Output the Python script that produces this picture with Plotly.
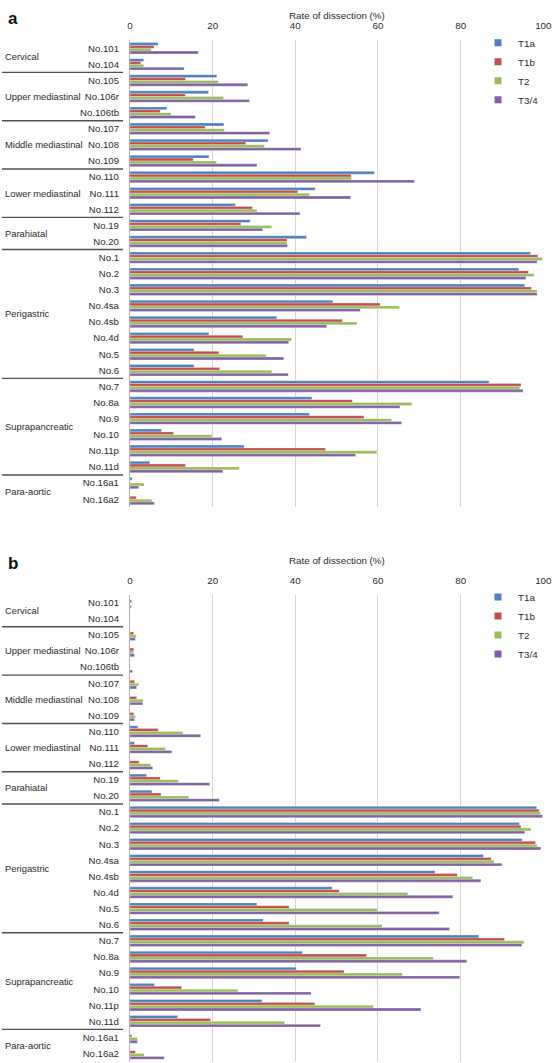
import plotly.graph_objects as go

categories = ["No.101", "No.104", "No.105", "No.106r", "No.106tb", "No.107", "No.108", "No.109",
              "No.110", "No.111", "No.112", "No.19", "No.20", "No.1", "No.2", "No.3", "No.4sa",
              "No.4sb", "No.4d", "No.5", "No.6", "No.7", "No.8a", "No.9", "No.10", "No.11p",
              "No.11d", "No.16a1", "No.16a2"]

group_names = ["Cervical", "Upper mediastinal", "Middle mediastinal", "Lower mediastinal",
               "Parahiatal", "Perigastric", "Suprapancreatic", "Para-aortic"]
group_sizes = [2, 3, 3, 3, 2, 8, 6, 2]

series_names = ["T1a", "T1b", "T2", "T3/4"]
series_colors = ["#4F81BD", "#C0504D", "#9BBB59", "#8064A2"]

# Panel a
a_T1a = [6.8, 3.3, 21.0, 19.0, 8.9, 22.7, 33.4, 19.1, 59.1, 44.8, 25.5, 29.1, 42.7, 96.9, 94.1,
         95.5, 49.1, 35.5, 19.1, 15.5, 15.5, 86.9, 44.0, 43.4, 7.6, 27.6, 4.8, 0.5, 0]
a_T1b = [5.8, 2.6, 13.4, 13.4, 7.3, 18.2, 28.0, 15.3, 53.5, 40.6, 29.6, 26.8, 38.0, 98.7, 96.4,
         97.1, 60.5, 51.4, 27.3, 21.5, 21.7, 94.6, 53.8, 56.6, 10.5, 47.3, 13.4, 0, 1.5]
a_T2 = [5.1, 3.3, 21.4, 22.6, 9.9, 22.8, 32.5, 20.9, 53.6, 43.4, 30.7, 34.3, 38.0, 99.8, 97.8,
        98.5, 65.2, 54.9, 39.1, 33.0, 34.3, 94.3, 68.2, 63.3, 19.8, 59.7, 26.4, 3.4, 5.3]
a_T34 = [16.5, 13.1, 28.5, 28.9, 15.8, 33.8, 41.4, 30.7, 68.8, 53.4, 41.1, 32.1, 38.1, 98.5, 95.8,
         98.5, 55.7, 47.6, 38.4, 37.2, 38.3, 95.1, 65.3, 65.7, 22.2, 54.6, 22.5, 2.1, 5.9]

# Panel b
b_T1a = [0, 0, 0, 0, 0, 0, 0, 0, 1.9, 1.1, 0, 4.0, 5.3, 98.4, 94.2, 94.9, 85.5, 73.8, 48.9, 30.7,
         32.2, 84.4, 41.7, 40.2, 5.9, 31.9, 11.5, 0, 0]
b_T1b = [0.4, 0, 0.9, 0.9, 0, 1.1, 1.6, 0.9, 6.8, 4.3, 2.2, 7.3, 7.5, 99.0, 94.6, 98.1, 87.4, 79.2,
         50.6, 38.5, 38.5, 90.6, 57.2, 51.8, 12.5, 44.7, 19.5, 0.4, 1.3]
b_T2 = [0, 0, 1.5, 0.8, 0, 2.1, 3.2, 1.3, 12.8, 8.6, 5.0, 11.7, 14.2, 99.3, 97.0, 98.5, 88.1, 82.9,
        67.2, 59.9, 61.0, 95.3, 73.4, 65.9, 26.1, 58.9, 37.4, 1.8, 3.4]
b_T34 = [0.3, 0, 1.3, 1.1, 0.6, 1.6, 3.1, 1.1, 17.1, 10.1, 5.5, 19.3, 21.6, 99.8, 95.5, 99.4, 90.0,
         84.9, 78.1, 74.8, 77.3, 94.8, 81.5, 79.8, 43.8, 70.4, 46.1, 1.8, 8.3]

x_ticks = [0, 20, 40, 60, 80, 100]
axis_title = "Rate of dissection (%)"
panel_labels = ["a", "b"]

W, H = 553, 1063
FONT = "Liberation Sans, Arial, sans-serif"
TXT = "#2a2a2a"
FS = 9.8
FS_CAT = 9.6
FS_GRP = 9.4

panels = [
    dict(data=[a_T1a, a_T1b, a_T2, a_T34], xa="x", ya="y", leg="legend",
         top=40.2, bottom=507.2, title_y=16, lab_y=19),
    dict(data=[b_T1a, b_T1b, b_T2, b_T34], xa="x2", ya="y2", leg="legend2",
         top=594.6, bottom=1061.6, title_y=560, lab_y=563),
]

fig = go.Figure()

for p in panels:
    for name, color, vals in zip(series_names, series_colors, p["data"]):
        fig.add_trace(go.Bar(
            y=categories, x=vals, name=name, orientation="h",
            xaxis=p["xa"], yaxis=p["ya"], showlegend=False,
            marker=dict(color=color, line=dict(color="rgba(255,255,255,0.55)", width=0.5)),
            hoverinfo="x+y+name",
        ))
    for name, color in zip(series_names, series_colors):
        fig.add_trace(go.Scatter(
            x=[None], y=[None], mode="markers", name=name,
            marker=dict(symbol="square", size=7, color=color),
            xaxis=p["xa"], yaxis=p["ya"], legend=p["leg"], showlegend=True,
        ))

x0f, x1f = 130.0 / W, 543.3 / W
n = len(categories)

layout = dict(
    width=W, height=H,
    margin=dict(l=0, r=0, t=0, b=0, autoexpand=False),
    paper_bgcolor="white", plot_bgcolor="white",
    barmode="group", bargap=0.29, bargroupgap=0.0,
    font=dict(family=FONT, size=FS, color=TXT),
    annotations=[], shapes=[],
)

for i, p in enumerate(panels):
    xk = "xaxis" if i == 0 else "xaxis2"
    yk = "yaxis" if i == 0 else "yaxis2"
    ydom = [1 - p["bottom"] / H, 1 - p["top"] / H]
    layout[xk] = dict(
        domain=[x0f, x1f], anchor=p["ya"], side="top", range=[0, 100],
        tickvals=x_ticks, ticktext=[str(t) for t in x_ticks],
        showgrid=True, gridcolor="#d4d4d4", gridwidth=1.2, zeroline=False,
        ticks="outside", ticklen=6, tickcolor="rgba(0,0,0,0)",
        tickfont=dict(family=FONT, size=FS, color=TXT), fixedrange=True,
        automargin=False,
    )
    layout[yk] = dict(
        domain=ydom, anchor=p["xa"], range=[n - 0.5, -0.5],
        type="category", categoryorder="array", categoryarray=categories,
        showline=True, linecolor="#b0b0b0", linewidth=1.2, showgrid=False,
        ticks="outside", ticklen=8, tickcolor="rgba(0,0,0,0)",
        tickfont=dict(family=FONT, size=FS_CAT, color=TXT), fixedrange=True,
        automargin=False,
    )
    leg_key = p["leg"]
    layout[leg_key] = dict(
        x=478 / W, xanchor="left", y=1 - (p["top"] - 12) / H, yanchor="top",
        bgcolor="rgba(0,0,0,0)", font=dict(family=FONT, size=FS, color=TXT),
        itemwidth=30, tracegroupgap=0,
    )
    layout["annotations"].append(dict(
        text=axis_title, xref="paper", yref="paper", x=(130 + 543.3) / 2 / W,
        y=1 - p["title_y"] / H, xanchor="center", yanchor="middle", showarrow=False,
        font=dict(family=FONT, size=FS, color=TXT)))
    layout["annotations"].append(dict(
        text="<b>%s</b>" % panel_labels[i], xref="paper", yref="paper", x=6 / W,
        y=1 - p["lab_y"] / H, xanchor="left", yanchor="middle", showarrow=False,
        font=dict(family=FONT, size=17, color="#111111")))
    start = 0
    for gi, (gname, gsize) in enumerate(zip(group_names, group_sizes)):
        mid = start + (gsize - 1) / 2
        layout["annotations"].append(dict(
            text=gname, xref="paper", yref=p["ya"], x=3 / W, y=mid,
            xanchor="left", yanchor="middle", showarrow=False,
            font=dict(family=FONT, size=FS_GRP, color=TXT)))
        if gi > 0:
            layout["shapes"].append(dict(
                type="line", xref="paper", yref=p["ya"], x0=2 / W, x1=123 / W,
                y0=start - 0.5, y1=start - 0.5, line=dict(color="#505050", width=1.4)))
        start += gsize

fig.update_layout(**layout)
fig.write_html(
    "out.html",
    config={"displayModeBar": False},
    post_script="document.body.style.margin='0px';document.body.style.padding='0px';"
                "document.documentElement.style.overflow='hidden';",
)
